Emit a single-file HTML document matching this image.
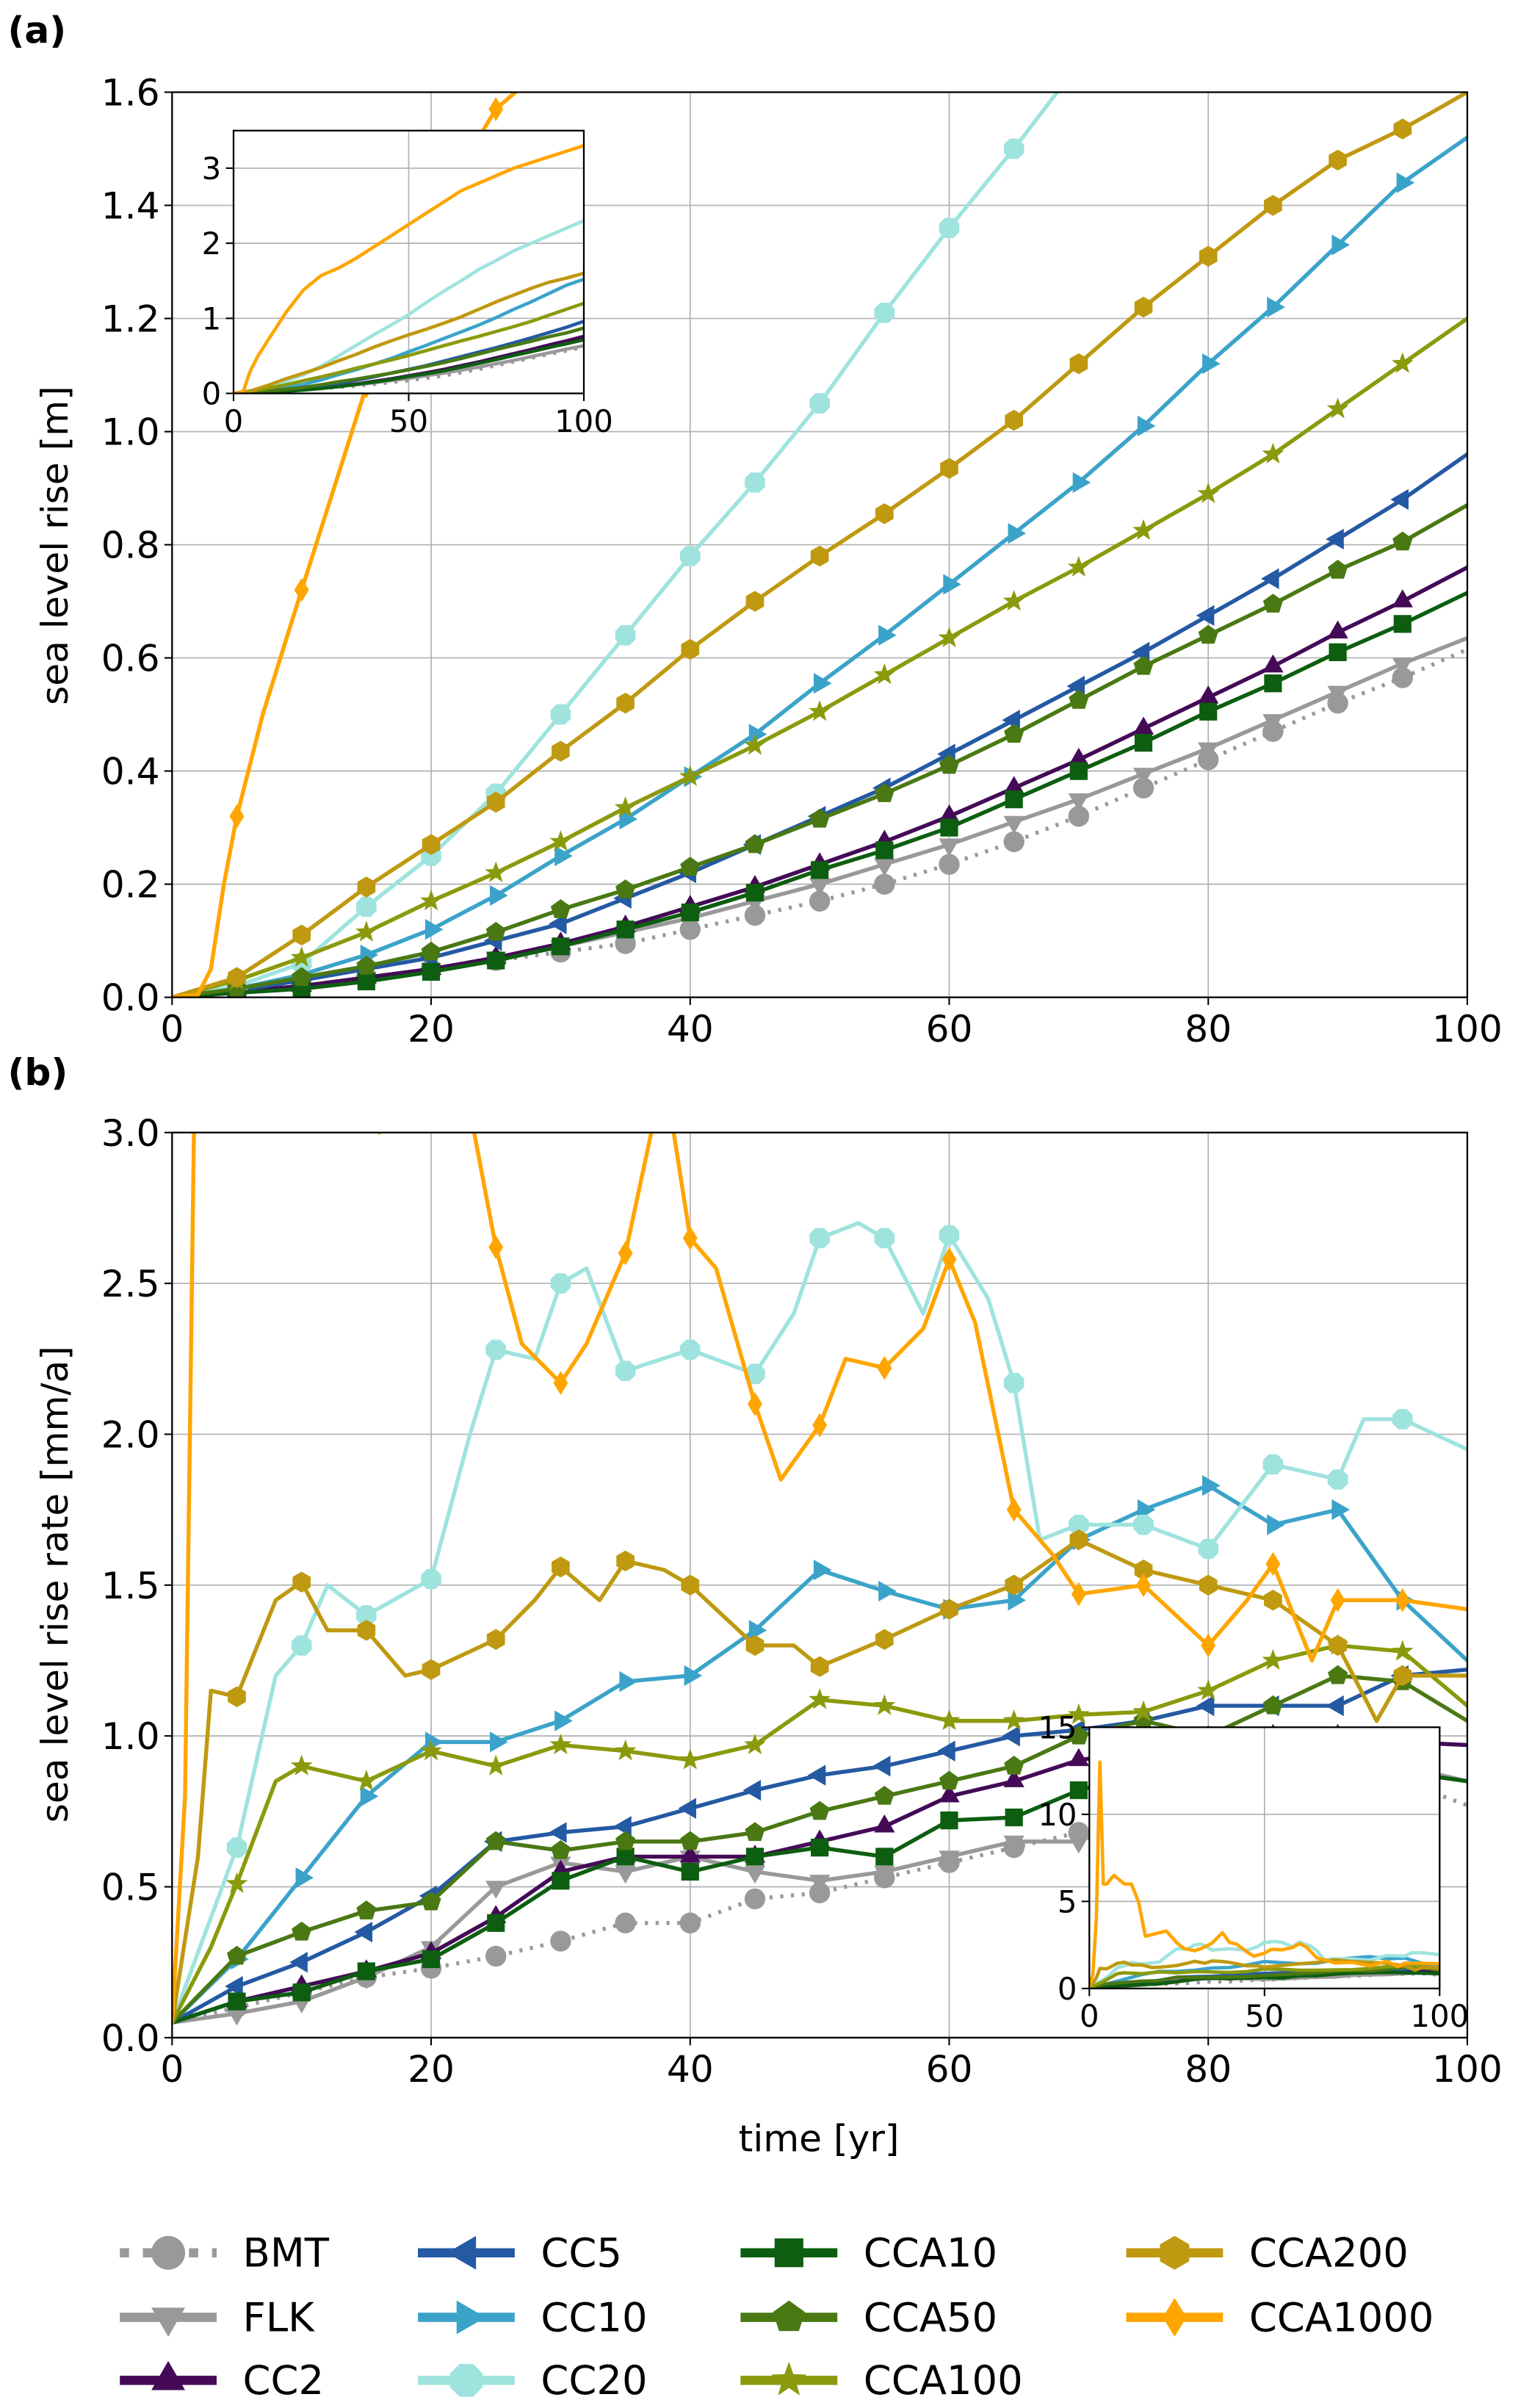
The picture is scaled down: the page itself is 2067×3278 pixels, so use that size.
<!DOCTYPE html>
<html><head><meta charset="utf-8"><style>
html,body{margin:0;padding:0;background:#fff}
svg{display:block}
text{font-family:"DejaVu Sans","Liberation Sans",sans-serif}
</style></head><body>
<svg id="fig" xmlns="http://www.w3.org/2000/svg" width="2067" height="3278" viewBox="0 0 988 1567" preserveAspectRatio="none"></svg>
<script>
// ---------- data (panel a: sea level rise [m]) ----------
const seriesNames = ["BMT","FLK","CC2","CC5","CC10","CC20","CCA10","CCA50","CCA100","CCA200","CCA1000"];
const tA = [0,5,10,15,20,25,30,35,40,45,50,55,60,65,70,75,80,85,90,95,100];
const slrBMT   = [0,0.01,0.02,0.035,0.05,0.065,0.08,0.095,0.12,0.145,0.17,0.2,0.235,0.275,0.32,0.37,0.42,0.47,0.52,0.565,0.615];
const slrFLK   = [0,0.01,0.02,0.035,0.05,0.07,0.09,0.115,0.14,0.17,0.2,0.235,0.27,0.31,0.35,0.395,0.44,0.49,0.54,0.59,0.635];
const slrCC2   = [0,0.01,0.02,0.035,0.05,0.07,0.095,0.125,0.16,0.195,0.235,0.275,0.32,0.37,0.42,0.475,0.53,0.585,0.645,0.7,0.76];
const slrCC5   = [0,0.012,0.03,0.05,0.07,0.1,0.13,0.175,0.22,0.27,0.32,0.37,0.43,0.49,0.55,0.61,0.675,0.74,0.81,0.88,0.96];
const slrCC10  = [0,0.015,0.04,0.075,0.12,0.18,0.25,0.315,0.39,0.465,0.555,0.64,0.73,0.82,0.91,1.01,1.12,1.22,1.33,1.44,1.52];
const slrCC20  = [0,0.02,0.06,0.16,0.25,0.36,0.5,0.64,0.78,0.91,1.05,1.21,1.36,1.5,1.65,1.77,1.9,2.0,2.1,2.2,2.3];
const slrCCA10 = [0,0.008,0.015,0.028,0.045,0.065,0.09,0.12,0.15,0.185,0.225,0.26,0.3,0.35,0.4,0.45,0.505,0.555,0.61,0.66,0.715];
const slrCCA50 = [0,0.015,0.035,0.055,0.08,0.115,0.155,0.19,0.23,0.27,0.315,0.36,0.41,0.465,0.525,0.585,0.64,0.695,0.755,0.805,0.87];
const slrCCA100= [0,0.03,0.07,0.115,0.17,0.22,0.275,0.335,0.39,0.445,0.505,0.57,0.635,0.7,0.76,0.825,0.89,0.96,1.04,1.12,1.2];
const slrCCA200= [0,0.035,0.11,0.195,0.27,0.345,0.435,0.52,0.615,0.7,0.78,0.855,0.935,1.02,1.12,1.22,1.31,1.4,1.48,1.535,1.6];
const tA1000   = [0,2,3,4,5,7,10,15,20,25,30,35,40,45,50,55,60,65,70,80,90,100];
const slrCCA1000=[0,0.005,0.05,0.2,0.32,0.5,0.72,1.08,1.38,1.57,1.67,1.8,1.95,2.1,2.25,2.4,2.55,2.7,2.8,3.0,3.15,3.3];

// ---------- data (panel b: sea level rise rate) ----------
const tB = [0,5,10,15,20,25,30,35,40,45,50,55,60,65,70,75,80,85,90,95,100];
const rateBMT   = [0.05,0.1,0.15,0.2,0.23,0.27,0.32,0.38,0.38,0.46,0.48,0.53,0.58,0.63,0.68,0.7,0.75,0.8,0.82,0.85,0.77];
const rateFLK   = [0.05,0.08,0.12,0.2,0.3,0.5,0.58,0.55,0.6,0.55,0.52,0.55,0.6,0.65,0.65,0.75,0.78,0.8,0.85,0.9,0.85];
const rateCC2   = [0.05,0.12,0.17,0.22,0.28,0.4,0.55,0.6,0.6,0.6,0.65,0.7,0.8,0.85,0.92,0.95,0.95,1.0,1.0,0.98,0.97];
const rateCC5   = [0.05,0.17,0.25,0.35,0.47,0.65,0.68,0.7,0.76,0.82,0.87,0.9,0.95,1.0,1.02,1.05,1.1,1.1,1.1,1.2,1.22];
const rateCC10  = [0.05,0.26,0.53,0.8,0.98,0.98,1.05,1.18,1.2,1.35,1.55,1.48,1.42,1.45,1.65,1.75,1.83,1.7,1.75,1.45,1.25];
const rateCCA10 = [0.05,0.12,0.15,0.22,0.26,0.38,0.52,0.6,0.55,0.6,0.63,0.6,0.72,0.73,0.82,0.88,0.9,0.92,0.9,0.88,0.85];
const rateCCA50 = [0.05,0.27,0.35,0.42,0.45,0.65,0.62,0.65,0.65,0.68,0.75,0.8,0.85,0.9,1.0,1.05,1.0,1.1,1.2,1.18,1.05];
const tB100 = [0,3,5,8,10,15,20,25,30,35,40,45,50,55,60,65,70,75,80,85,90,95,100];
const rateCCA100= [0.05,0.3,0.51,0.85,0.9,0.85,0.95,0.9,0.97,0.95,0.92,0.97,1.12,1.1,1.05,1.05,1.07,1.08,1.15,1.25,1.3,1.28,1.1];
const tB20 = [0,5,8,10,12,15,20,23,25,28,30,32,35,40,45,48,50,53,55,58,60,63,65,67,70,75,80,85,90,92,95,100];
const rateCC20  = [0.05,0.63,1.2,1.3,1.5,1.4,1.52,2.0,2.28,2.25,2.5,2.55,2.21,2.28,2.2,2.4,2.65,2.7,2.65,2.4,2.66,2.45,2.17,1.65,1.7,1.7,1.62,1.9,1.85,2.05,2.05,1.95];
const tB200 = [0,2,3,5,8,10,12,15,18,20,25,28,30,33,35,38,40,45,48,50,55,60,65,70,75,80,85,90,93,95,100];
const rateCCA200= [0.05,0.6,1.15,1.13,1.45,1.51,1.35,1.35,1.2,1.22,1.32,1.45,1.56,1.45,1.58,1.55,1.5,1.3,1.3,1.23,1.32,1.42,1.5,1.65,1.55,1.5,1.45,1.3,1.05,1.2,1.2];
const tB1000 = [0,1,2,3,4,5,7,10,12,14,16,20,22,25,27,30,32,35,37,38,40,42,45,47,50,52,55,58,60,62,65,68,70,75,80,83,85,88,90,95,100];
const rateCCA1000=[0.05,0.8,4,13,6,6,6.5,6,6,5,3,3.2,3.3,2.62,2.3,2.17,2.3,2.6,3.0,3.2,2.65,2.55,2.1,1.85,2.03,2.25,2.22,2.35,2.58,2.37,1.75,1.6,1.47,1.5,1.3,1.45,1.57,1.25,1.45,1.45,1.42];

const xTicks = [0,20,40,60,80,100];
const yTicksA = [0,0.2,0.4,0.6,0.8,1.0,1.2,1.4,1.6];
const yTicksB = [0,0.5,1.0,1.5,2.0,2.5,3.0];
const insetXTicks = [0,50,100];
const insetYTicksA = [0,1,2,3];
const insetYTicksB = [0,5,10,15];

const style = {
 BMT:{c:"#999999",m:"circle",dash:"2,5"}, FLK:{c:"#999999",m:"tdown"}, CC2:{c:"#440a57",m:"tup"},
 CC5:{c:"#2459a3",m:"tleft"}, CC10:{c:"#3ba3c9",m:"tright"}, CC20:{c:"#9fe3de",m:"octagon"},
 CCA10:{c:"#0d5e10",m:"square"}, CCA50:{c:"#4a7813",m:"pentagon"}, CCA100:{c:"#8a9a0c",m:"star"},
 CCA200:{c:"#bf9910",m:"hexagon"}, CCA1000:{c:"#ffa500",m:"diamond"}
};
const dataA = {BMT:[tA,slrBMT],FLK:[tA,slrFLK],CC2:[tA,slrCC2],CC5:[tA,slrCC5],CC10:[tA,slrCC10],CC20:[tA,slrCC20],CCA10:[tA,slrCCA10],CCA50:[tA,slrCCA50],CCA100:[tA,slrCCA100],CCA200:[tA,slrCCA200],CCA1000:[tA1000,slrCCA1000]};
const dataB = {BMT:[tB,rateBMT],FLK:[tB,rateFLK],CC2:[tB,rateCC2],CC5:[tB,rateCC5],CC10:[tB,rateCC10],CC20:[tB20,rateCC20],CCA10:[tB,rateCCA10],CCA50:[tB,rateCCA50],CCA100:[tB100,rateCCA100],CCA200:[tB200,rateCCA200],CCA1000:[tB1000,rateCCA1000]};

const NS="http://www.w3.org/2000/svg";
const svg=document.getElementById('fig');
function mk(tag,attrs,parent){const e=document.createElementNS(NS,tag);for(const k in attrs)e.setAttribute(k,attrs[k]);(parent||svg).appendChild(e);return e;}
function interp(ts,vs,t){for(let i=1;i<ts.length;i++){if(t<=ts[i]){const f=(t-ts[i-1])/(ts[i]-ts[i-1]);return vs[i-1]+f*(vs[i]-vs[i-1]);}}return vs[vs.length-1];}
function markerPath(type,x,y,r){
 const p=(n,rot,rr)=>{let s="";for(let i=0;i<n;i++){const a=rot+i*2*Math.PI/n;s+=(i?"L":"M")+(x+rr*Math.cos(a)).toFixed(2)+","+(y+rr*Math.sin(a)).toFixed(2);}return s+"Z";};
 switch(type){
  case "circle": return `M${x-r},${y}a${r},${r} 0 1,0 ${2*r},0a${r},${r} 0 1,0 ${-2*r},0Z`;
  case "tdown": return p(3,Math.PI/2,r*1.15);
  case "tup": return p(3,-Math.PI/2,r*1.15);
  case "tleft": return p(3,Math.PI,r*1.15);
  case "tright": return p(3,0,r*1.15);
  case "square": return `M${x-r*0.85},${y-r*0.85}h${1.7*r}v${1.7*r}h${-1.7*r}Z`;
  case "pentagon": return p(5,-Math.PI/2,r);
  case "hexagon": return p(6,-Math.PI/2,r);
  case "octagon": return p(8,Math.PI/8,r*1.05);
  case "diamond": return `M${x},${y-r*1.15}L${x+r*0.7},${y}L${x},${y+r*1.15}L${x-r*0.7},${y}Z`;
  case "star": {let s="";for(let i=0;i<10;i++){const a=-Math.PI/2+i*Math.PI/5;const rr=i%2?r*0.45:r*1.1;s+=(i?"L":"M")+(x+rr*Math.cos(a)).toFixed(2)+","+(y+rr*Math.sin(a)).toFixed(2);}return s+"Z";}
 }
}
function axes(cfg){
 const {x0,x1,y0,y1,xmin,xmax,ymin,ymax}=cfg;
 const sx=v=>x0+(v-xmin)/(xmax-xmin)*(x1-x0);
 const sy=v=>y0-(v-ymin)/(ymax-ymin)*(y0-y1);
 return {sx,sy};
}
function drawPanel(id,cfg,data,xt,yt,fmt,fs,withMarkers,lw){
 const g=mk('g',{},svg);
 
 
 const {sx,sy}=axes(cfg);
 mk('rect',{x:cfg.x0,y:cfg.y1,width:cfg.x1-cfg.x0,height:cfg.y0-cfg.y1,fill:'#fff'},g);
 const cid=id+'-clip';
 const cp=mk('clipPath',{id:cid},g);mk('rect',{x:cfg.x0,y:cfg.y1,width:cfg.x1-cfg.x0,height:cfg.y0-cfg.y1},cp);
 const grid=mk('g',{stroke:'#b0b0b0','stroke-width':0.8},g);
 
 
 xt.forEach(v=>mk('line',{x1:sx(v),x2:sx(v),y1:cfg.y0,y2:cfg.y1},grid));
 yt.forEach(v=>mk('line',{x1:cfg.x0,x2:cfg.x1,y1:sy(v),y2:sy(v)},grid));
 const sg=mk('g',{'clip-path':`url(#${cid})`},g);
 seriesNames.forEach(n=>{
  const [ts,vs]=data[n];const st=style[n];
  let d="";ts.forEach((t,i)=>{d+=(i?"L":"M")+sx(t).toFixed(2)+","+sy(vs[i]).toFixed(2);});
  const pl=mk('path',{d:d,fill:'none',stroke:st.c,'stroke-width':lw,'stroke-linejoin':'round','stroke-linecap':st.dash?'butt':'round'},sg);
  if(st.dash)pl.setAttribute('stroke-dasharray',st.dash);
  
  
  if(withMarkers){
   for(let t=5;t<100;t+=5){
    const v=interp(ts,vs,t);
    const mp=mk('path',{d:markerPath(st.m,sx(t),sy(v),6.8),fill:st.c},sg);
    
    
   }
  }
 });
 mk('rect',{x:cfg.x0,y:cfg.y1,width:cfg.x1-cfg.x0,height:cfg.y0-cfg.y1,fill:'none',stroke:'#000','stroke-width':1.1},g);
 xt.forEach(v=>{mk('line',{x1:sx(v),x2:sx(v),y1:cfg.y0,y2:cfg.y0+5,stroke:'#000'},g);
  const tx=mk('text',{x:sx(v),y:cfg.y0+6+fs*0.95,'text-anchor':'middle','font-size':fs},g);tx.textContent=v;
  
  });
 yt.forEach(v=>{mk('line',{x1:cfg.x0-5,x2:cfg.x0,y1:sy(v),y2:sy(v),stroke:'#000'},g);
  const tx=mk('text',{x:cfg.x0-8,y:sy(v)+fs*0.36,'text-anchor':'end','font-size':fs},g);tx.textContent=fmt(v);
  
  });
 return g;
}
const f1=v=>v.toFixed(1);const f0=v=>String(v);
drawPanel('panel-a',{x0:112,x1:955,y0:649,y1:60,xmin:0,xmax:100,ymin:0,ymax:1.6},dataA,xTicks,yTicksA,f1,24,true,2.6);
drawPanel('inset-a',{x0:152,x1:380,y0:256,y1:85,xmin:0,xmax:100,ymin:0,ymax:3.5},dataA,insetXTicks,insetYTicksA,f0,20,false,2.2);
drawPanel('panel-b',{x0:112,x1:955,y0:1326,y1:737,xmin:0,xmax:100,ymin:0,ymax:3},dataB,xTicks,yTicksB,f1,24,true,2.6);
drawPanel('inset-b',{x0:709,x1:937,y0:1294,y1:1124,xmin:0,xmax:100,ymin:0,ymax:15},dataB,insetXTicks,insetYTicksB,f0,20,false,2.2);

function txt(s,x,y,fs,name,extra){const t=mk('text',Object.assign({x:x,y:y,'font-size':fs},extra||{}));t.textContent=s;
 
 return t;}
txt('(a)',5,28,24,'panel-a-label',{'font-weight':'bold'});
txt('(b)',5,706,24,'panel-b-label',{'font-weight':'bold'});
txt('sea level rise [m]',44,355,24,'y-axis-title-a',{'text-anchor':'middle',transform:'rotate(-90 44 355)'});
txt('sea level rise rate [mm/a]',44,1031,24,'y-axis-title-b',{'text-anchor':'middle',transform:'rotate(-90 44 1031)'});
txt('time [yr]',533,1400,24,'x-axis-title',{'text-anchor':'middle'});

const legCols=[78,272,482,733];const legRows=[1466,1508,1549];
const leg=mk('g',{},svg);


seriesNames.forEach((n,i)=>{
 const col=Math.floor(i/3),row=i%3;const x=legCols[col],y=legRows[row];const st=style[n];
 const e=mk('g',{},leg);
 
 
 const l=mk('line',{x1:x,x2:x+63,y1:y,y2:y,stroke:st.c,'stroke-width':6},e);
 if(st.dash)l.setAttribute('stroke-dasharray','6,9');
 mk('path',{d:markerPath(st.m,x+31.5,y,11),fill:st.c},e);
 const t=mk('text',{x:x+80,y:y+9,'font-size':26},e);t.textContent=n;
});
</script>
</body></html>
